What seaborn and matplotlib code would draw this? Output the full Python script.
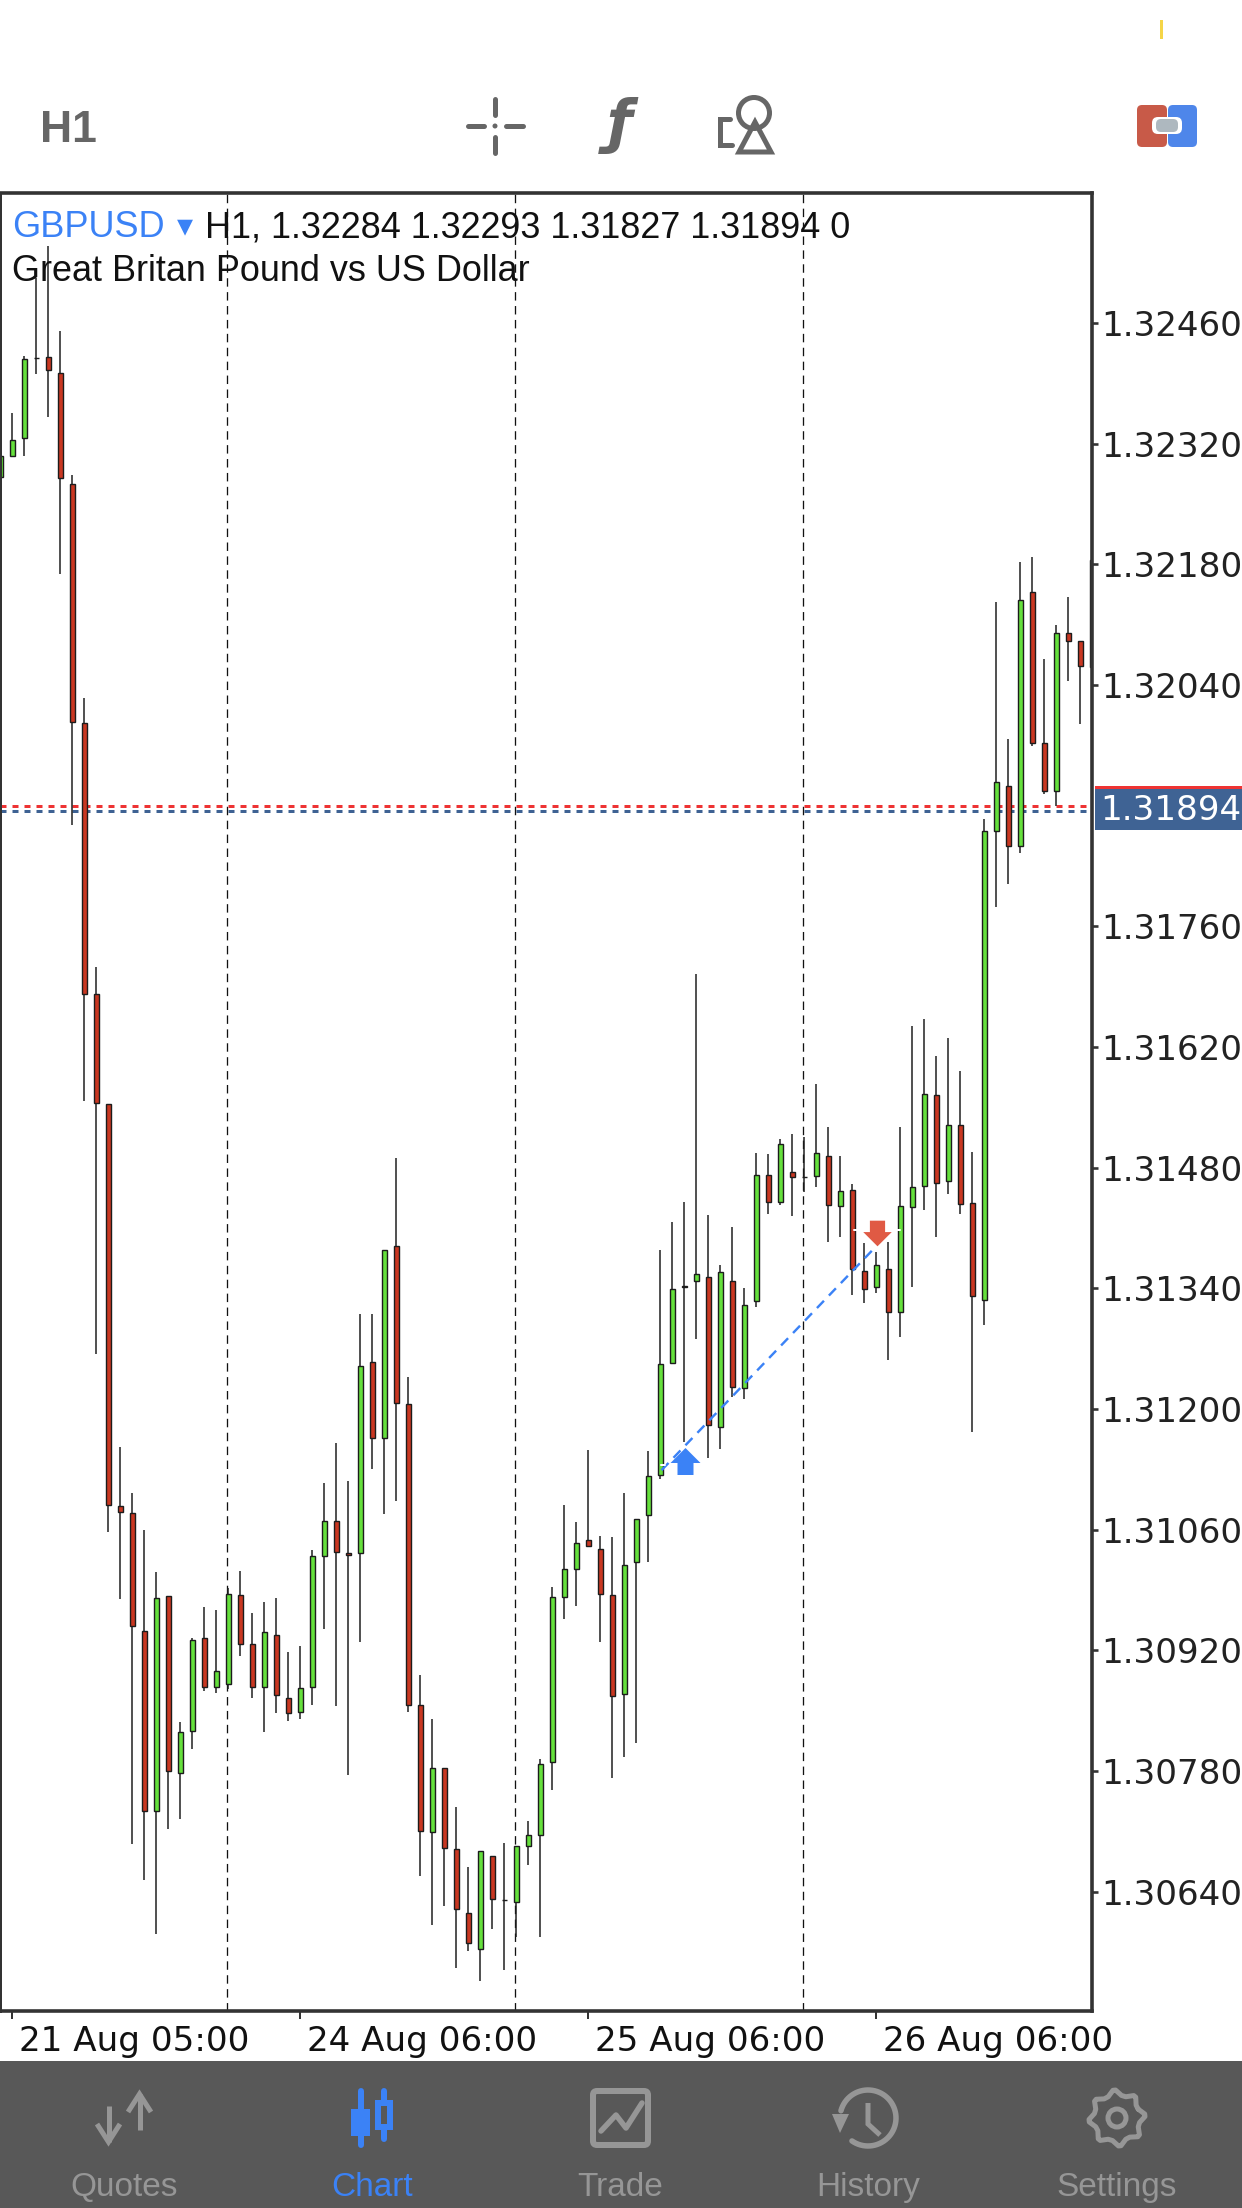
#MT4 style candlestick screen: GBPUSD H1
#Bodies are drawn with seaborn barplot (bottom + height), wicks with vlines
#An overlay axes in pixel units holds the app toolbar and the tab bar

import numpy as np
import pandas as pd
import seaborn as sns
import matplotlib.pyplot as plt
from matplotlib.patches import Rectangle, Circle, FancyBboxPatch, Polygon
from matplotlib.path import Path
from matplotlib.transforms import Affine2D

#Step 1: Chart data
opens = [
    1.32281, 1.32306, 1.32326, 1.32419, 1.32420, 1.32402, 1.32273, 1.31996, 1.31681, 1.31554,
    1.31088, 1.31079, 1.30943, 1.30734, 1.30983, 1.30778, 1.30826, 1.30934, 1.30877, 1.30881,
    1.30984, 1.30927, 1.30877, 1.30938, 1.30865, 1.30848, 1.30878, 1.31029, 1.31070, 1.31033,
    1.31033, 1.31255, 1.31166, 1.31389, 1.31206, 1.30857, 1.30709, 1.30784, 1.30690, 1.30615,
    1.30574, 1.30681, 1.30631, 1.30628, 1.30693, 1.30706, 1.30791, 1.30982, 1.31015, 1.31048,
    1.31038, 1.30984, 1.30870, 1.31023, 1.31077, 1.31124, 1.31253, 1.31343, 1.31349, 1.31353,
    1.31179, 1.31349, 1.31224, 1.31325, 1.31471, 1.31440, 1.31475, 1.31469, 1.31470, 1.31493,
    1.31436, 1.31454, 1.31360, 1.31341, 1.31362, 1.31312, 1.31434, 1.31459, 1.31564, 1.31465,
    1.31530, 1.31439, 1.31327, 1.31871, 1.31923, 1.31853, 1.32148, 1.31973, 1.31917, 1.32100,
    1.32091, 1.32185,
]
highs = [
    1.32305, 1.32355, 1.32421, 1.32512, 1.32549, 1.32451, 1.32283, 1.32025, 1.31713, 1.31554,
    1.31156, 1.31103, 1.31060, 1.31011, 1.30983, 1.30837, 1.30934, 1.30970, 1.30967, 1.30992,
    1.31012, 1.30963, 1.30976, 1.30981, 1.30918, 1.30925, 1.31036, 1.31114, 1.31161, 1.31116,
    1.31310, 1.31310, 1.31385, 1.31491, 1.31237, 1.30891, 1.30840, 1.30784, 1.30738, 1.30669,
    1.30687, 1.30681, 1.30697, 1.30693, 1.30722, 1.30794, 1.30994, 1.31089, 1.31069, 1.31153,
    1.31053, 1.31052, 1.31103, 1.31073, 1.31151, 1.31384, 1.31417, 1.31440, 1.31705, 1.31425,
    1.31367, 1.31411, 1.31340, 1.31497, 1.31496, 1.31513, 1.31519, 1.31515, 1.31577, 1.31527,
    1.31493, 1.31461, 1.31393, 1.31382, 1.31394, 1.31527, 1.31644, 1.31653, 1.31609, 1.31630,
    1.31592, 1.31498, 1.31885, 1.32136, 1.31977, 1.32182, 1.32188, 1.32070, 1.32110, 1.32142,
    1.32091, 1.32190,
]
lows = [
    1.32281, 1.32306, 1.32305, 1.32401, 1.32351, 1.32169, 1.31878, 1.31557, 1.31264, 1.31057,
    1.30980, 1.30696, 1.30654, 1.30591, 1.30713, 1.30724, 1.30806, 1.30873, 1.30871, 1.30875,
    1.30914, 1.30865, 1.30825, 1.30847, 1.30838, 1.30841, 1.30857, 1.30945, 1.30855, 1.30776,
    1.30930, 1.31130, 1.31078, 1.31093, 1.30848, 1.30658, 1.30602, 1.30624, 1.30552, 1.30571,
    1.30537, 1.30597, 1.30549, 1.30587, 1.30671, 1.30588, 1.30758, 1.30957, 1.30971, 1.31041,
    1.30930, 1.30772, 1.30796, 1.30813, 1.31022, 1.31119, 1.31253, 1.31162, 1.31281, 1.31143,
    1.31154, 1.31214, 1.31212, 1.31318, 1.31426, 1.31437, 1.31424, 1.31452, 1.31457, 1.31394,
    1.31399, 1.31332, 1.31323, 1.31335, 1.31257, 1.31283, 1.31342, 1.31431, 1.31400, 1.31450,
    1.31426, 1.31173, 1.31297, 1.31782, 1.31809, 1.31845, 1.31969, 1.31913, 1.31899, 1.32045,
    1.31995, 1.32061,
]
closes = [
    1.32305, 1.32324, 1.32418, 1.32419, 1.32405, 1.32280, 1.31997, 1.31682, 1.31555, 1.31089,
    1.31080, 1.30948, 1.30734, 1.30981, 1.30780, 1.30825, 1.30932, 1.30877, 1.30896, 1.30985,
    1.30927, 1.30877, 1.30941, 1.30868, 1.30847, 1.30876, 1.31030, 1.31070, 1.31034, 1.31031,
    1.31250, 1.31166, 1.31385, 1.31207, 1.30857, 1.30710, 1.30784, 1.30691, 1.30620, 1.30581,
    1.30687, 1.30632, 1.30631, 1.30693, 1.30706, 1.30788, 1.30982, 1.31014, 1.31045, 1.31041,
    1.30985, 1.30867, 1.31019, 1.31073, 1.31122, 1.31252, 1.31339, 1.31341, 1.31357, 1.31181,
    1.31359, 1.31225, 1.31321, 1.31472, 1.31440, 1.31507, 1.31469, 1.31469, 1.31497, 1.31437,
    1.31453, 1.31363, 1.31339, 1.31367, 1.31312, 1.31435, 1.31458, 1.31566, 1.31462, 1.31530,
    1.31438, 1.31331, 1.31871, 1.31927, 1.31853, 1.32138, 1.31973, 1.31917, 1.32100, 1.32091,
    1.32062, 1.32061,
]
price_ticks = [1.32460, 1.32320, 1.32180, 1.32040, 1.31760, 1.31620, 1.31480, 1.31340, 1.31200, 1.31060, 1.30920, 1.30780, 1.30640]
time_tick_idx = [1, 25, 49, 73]
time_tick_labels = ["21 Aug 05:00", "24 Aug 06:00", "25 Aug 06:00", "26 Aug 06:00"]
separator_idx = [18.91, 42.91, 66.91]
bid_price = 1.31894
ask_price = 1.31900
trade_idx = [55.1, 73.0]
trade_price = [1.31129, 1.31389]
buy_idx, buy_price = 57.05, 1.31140
sell_idx, sell_price = 73.05, 1.31404

#Colors
GREEN = "#65E03C"
RED = "#C93721"
DARK = "#1C1C1C"
FRAME = "#333333"
BLUE = "#3B82F6"
BAR_GREY = "#585858"
ICON_GREY = "#666666"
TAB_GREY = "#969696"
PX = 0.72  # one pixel in points at dpi 100

#Step 2: Theme (font list has to come after set_theme)
sns.set_theme(style="white")
plt.rcParams["font.family"] = ["DejaVu Sans"]

W, H = 1242, 2208
fig = plt.figure(figsize=(W / 100, H / 100), dpi=100, facecolor="white")
ax = fig.add_axes([0, 1 - 2011 / H, 1092 / W, (2011 - 193) / H])

#Step 3: Candles
df = pd.DataFrame({"idx": np.arange(len(opens)), "open": opens, "high": highs, "low": lows, "close": closes})
df["bottom"] = df[["open", "close"]].min(axis=1)
df["height"] = (df["close"] - df["open"]).abs()
up = df[df["close"] >= df["open"]]
down = df[df["close"] < df["open"]]

ax.vlines(df["idx"], df["low"], df["high"], color=DARK, lw=1.5 * PX, zorder=2)
for part, col in [(up, GREEN), (down, RED)]:
    sns.barplot(data=part, x="idx", y="height", bottom=part["bottom"].to_numpy(), native_scale=True,
                orient="x", color=col, saturation=1, width=0.45, edgecolor=DARK, linewidth=1.4 * PX,
                errorbar=None, zorder=2.2, ax=ax)

#Separators, price lines and the trade
for s in separator_idx:
    ax.axvline(s, color="#111111", lw=1.3 * PX, ls=(0, (6.5, 4.2)), zorder=1)
ax.axhline(ask_price, color="#EE3333", lw=3 * PX, ls=(0, (2, 2)), zorder=1.5)
ax.axhline(bid_price, color="#3E6293", lw=3 * PX, ls=(0, (2, 2)), zorder=1.4)
ax.plot(trade_idx, trade_price, color=BLUE, lw=2.4 * PX, ls=(0, (4.2, 3)), zorder=2.3)

arrow = np.array([(0, 13.5), (15, -1.5), (8, -1.5), (8, -13.5), (-8, -13.5), (-8, -1.5), (-15, -1.5), (0, 13.5)])
ax.plot([buy_idx], [buy_price], marker=Path(arrow, closed=True), ms=30 * PX, mew=0, color=BLUE, zorder=2.4)
ax.plot([sell_idx], [sell_price], marker=Path(arrow * [1, -1], closed=True), ms=28.5 * PX, mew=0, color="#E05A44", zorder=2.4)

#Step 4: Axes
ax.set_xlim(-0.0275, 90.9725)
ax.set_ylim(1.305017, 1.326106)
ax.set_xlabel("")
ax.set_ylabel("")
ax.set_xticks(time_tick_idx)
ax.set_xticklabels(time_tick_labels)
ax.yaxis.tick_right()
ax.set_yticks(price_ticks)
ax.set_yticklabels([f"{p:.5f}" for p in price_ticks])
ax.tick_params(axis="y", length=6 * PX, width=2.6 * PX, color=FRAME, pad=2, labelsize=24.6, labelcolor="#222222", right=True)
ax.tick_params(axis="x", length=8 * PX, width=2 * PX, color=FRAME, pad=4, labelsize=24.6, labelcolor="#111111", bottom=True)
for lab in ax.get_xticklabels():
    lab.set_ha("left")
    lab.set_transform(lab.get_transform() + Affine2D().translate(7, 0))
for side, w in [("top", 3.6), ("right", 3.6), ("bottom", 3.6), ("left", 3)]:
    ax.spines[side].set_visible(True)
    ax.spines[side].set_color(FRAME)
    ax.spines[side].set_linewidth(w * PX)

#Step 5: Overlay in pixel units, chart header texts
TXT = ["Liberation Sans", "DejaVu Sans"]
ov = fig.add_axes([0, 0, 1, 1], zorder=5)
ov.set_xlim(0, W)
ov.set_ylim(H, 0)
ov.axis("off")
ov.patch.set_alpha(0)
ov.text(12, 237, "GBPUSD", color=BLUE, fontsize=26, family=TXT, va="baseline")
ov.text(177, 235, "▾", color=BLUE, fontsize=23, family="DejaVu Sans", va="baseline")
ov.text(205, 237, "H1, 1.32284 1.32293 1.31827 1.31894 0", color="#111111", fontsize=25.9, family=TXT, va="baseline")
ov.text(12, 281, "Great Britan Pound vs US Dollar", color="#111111", fontsize=25.9, family=TXT, va="baseline")

#Little white stubs next to the trade arrows
for x0, x1, y in [(661, 665, 1465), (854, 858, 1230), (896, 900, 1230)]:
    ov.plot([x0, x1], [y, y], color="white", lw=2 * PX)

#Last price tag
ov.add_patch(Rectangle((1095, 788), W - 1095, 42, color="#3F6394", lw=0))
ov.add_patch(Rectangle((1095, 786), W - 1095, 3, color="#EE3333", lw=0))
ov.text(1100, 810, f"{bid_price:.5f}", color="white", fontsize=24.6, va="center", family="DejaVu Sans")

#Step 6: Top toolbar
ov.add_patch(Rectangle((1159.5, 20), 3, 19, color="#F5D547", lw=0))
ov.text(40, 142, "H1", color=ICON_GREY, fontsize=32, weight="bold", va="baseline", family="Liberation Sans")
kw = dict(color=ICON_GREY, lw=5 * PX, solid_capstyle="round")
ov.plot([495, 495], [99, 115], **kw)
ov.plot([495, 495], [137, 153], **kw)
ov.plot([468, 484], [126, 126], **kw)
ov.plot([506, 523], [126, 126], **kw)
ov.add_patch(Circle((495, 126), 2.5, color=ICON_GREY, lw=0))
ov.text(620, 126, "ƒ", color=ICON_GREY, fontsize=42, style="italic", weight="bold", ha="center", va="center", family="DejaVu Sans")
ov.add_patch(Circle((754, 113), 15.5, fill=False, ec=ICON_GREY, lw=5 * PX))
ov.add_patch(Polygon([(755, 122), (771, 152), (739, 152)], closed=True, fill=False, ec=ICON_GREY, lw=5 * PX))
ov.plot([730, 720, 720, 732], [119, 119, 145, 145], color=ICON_GREY, lw=5 * PX, solid_joinstyle="miter")
ov.add_patch(FancyBboxPatch((1137, 105), 30, 42, boxstyle="round,pad=0,rounding_size=5", fc="#C85A48", lw=0))
ov.add_patch(FancyBboxPatch((1168, 105), 29, 42, boxstyle="round,pad=0,rounding_size=5", fc="#4E86EA", lw=0))
ov.add_patch(FancyBboxPatch((1152, 117), 30, 17, boxstyle="round,pad=0,rounding_size=6", fc="white", lw=0))
ov.add_patch(FancyBboxPatch((1156, 119), 22, 13, boxstyle="round,pad=0,rounding_size=5", fc="#AEB8BF", lw=0))

#Step 7: Bottom tab bar
ov.add_patch(Rectangle((0, 2061), W, H - 2061, color=BAR_GREY, lw=0))
tab_names = ["Quotes", "Chart", "Trade", "History", "Settings"]
tab_x = [124, 372, 620, 868, 1117]
for name, x in zip(tab_names, tab_x):
    col = BLUE if name == "Chart" else TAB_GREY
    ov.text(x, 2196, name, color=col, fontsize=24, ha="center", va="baseline", family=TXT)

tk = dict(color=TAB_GREY, lw=5 * PX, solid_capstyle="butt", solid_joinstyle="miter")
#Quotes arrows
ov.plot([108.5, 108.5], [2106, 2142], **tk)
ov.plot([97, 108.5, 120], [2124, 2142, 2124], **tk)
ov.plot([139.5, 139.5], [2130, 2094], **tk)
ov.plot([128, 139.5, 151], [2112, 2094, 2112], **tk)
#Chart icon
ov.plot([360.5, 360.5], [2091, 2145], color=BLUE, lw=6 * PX)
ov.add_patch(Rectangle((351, 2109), 19, 27, color=BLUE, lw=0))
ov.plot([384, 384], [2091, 2139], color=BLUE, lw=6 * PX)
ov.add_patch(Rectangle((378, 2103), 12, 24, fc=BAR_GREY, ec=BLUE, lw=6 * PX, zorder=3))
#Trade icon
ov.add_patch(FancyBboxPatch((593, 2091), 55, 54, boxstyle="round,pad=0,rounding_size=4", fill=False, ec=TAB_GREY, lw=6 * PX))
ov.plot([601, 616, 626, 642], [2131, 2115, 2128, 2103], color=TAB_GREY, lw=5.5 * PX)
#History icon
t = np.radians(np.linspace(-165, 125, 60))
ov.plot(868 + 28 * np.cos(t), 2118 + 28 * np.sin(t), color=TAB_GREY, lw=5.5 * PX)
ov.add_patch(Polygon([(832, 2114), (849, 2114), (840, 2133)], closed=True, color=TAB_GREY, lw=0))
ov.plot([868, 868, 880], [2103, 2124, 2135], **tk)
#Settings gear
n = 8
ang = np.radians(np.linspace(0, 360, 4 * n + 1) - 22.5)
rad = np.tile([23, 28, 28, 23], n + 1)[:4 * n + 1]
ang2 = ang + np.radians(np.tile([0, 3, -3, 0], n + 1)[:4 * n + 1])
ov.plot(1117 + rad * np.cos(ang2), 2118 + rad * np.sin(ang2), color=TAB_GREY, lw=5 * PX)
ov.add_patch(Circle((1117, 2118), 9, fill=False, ec=TAB_GREY, lw=5 * PX))

fig.savefig("out.png", dpi=100)
